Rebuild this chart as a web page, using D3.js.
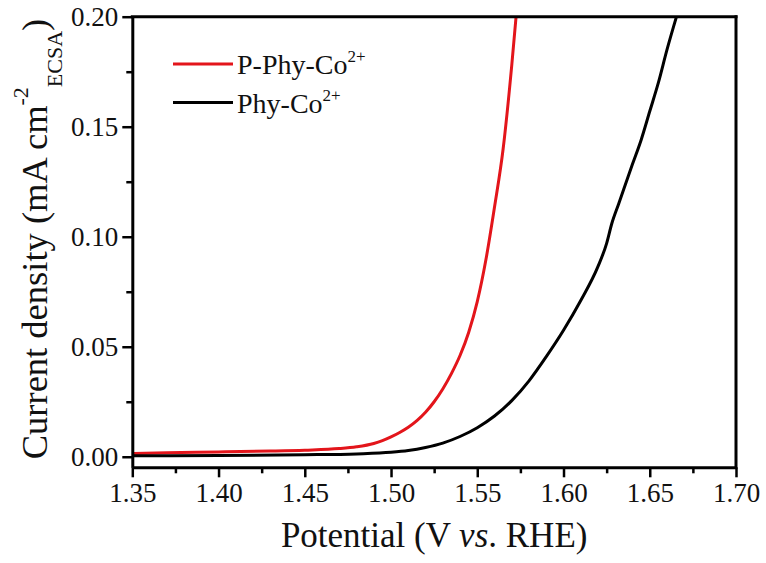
<!DOCTYPE html>
<html>
<head>
<meta charset="utf-8">
<script src="https://cdn.jsdelivr.net/npm/d3@7"></script>
<style>
  html, body { margin: 0; padding: 0; background: #fff; }
</style>
</head>
<body>
<svg id="chart" width="766" height="563"></svg>
<script>
// ---- data ----
const seriesNames = ["P-Phy-Co", "Phy-Co"];
const seriesColors = ["#e3151b", "#000000"];

const redPotential = [1.35, 1.37, 1.40, 1.43, 1.45, 1.47, 1.48, 1.49, 1.495, 1.50, 1.505, 1.51, 1.515, 1.52, 1.525, 1.53, 1.535, 1.54, 1.545, 1.55, 1.555, 1.56, 1.565, 1.57, 1.5725];
const redCurrent   = [0.0015, 0.0018, 0.0022, 0.0026, 0.0030, 0.0037, 0.0045, 0.0060, 0.0073, 0.0090, 0.0110, 0.0134, 0.0164, 0.0202, 0.0250, 0.0308, 0.0378, 0.0460, 0.0565, 0.0705, 0.0895, 0.1135, 0.1400, 0.1780, 0.2000];

const blackPotential = [1.35, 1.40, 1.45, 1.48, 1.50, 1.51, 1.52, 1.53, 1.54, 1.55, 1.56, 1.57, 1.58, 1.59, 1.60, 1.61, 1.62, 1.625, 1.628, 1.632, 1.64, 1.645, 1.65, 1.655, 1.66, 1.6655];
const blackCurrent   = [0.0004, 0.0006, 0.0009, 0.0013, 0.0020, 0.0028, 0.0042, 0.0062, 0.0092, 0.0132, 0.0185, 0.0255, 0.0345, 0.0455, 0.0575, 0.0710, 0.0865, 0.0970, 0.1060, 0.1150, 0.1330, 0.1440, 0.1570, 0.1700, 0.1850, 0.2000];

const xMajorTicks = [1.35, 1.40, 1.45, 1.50, 1.55, 1.60, 1.65, 1.70];
const xMinorTicks = [1.375, 1.425, 1.475, 1.525, 1.575, 1.625, 1.675];
const yMajorTicks = [0.00, 0.05, 0.10, 0.15, 0.20];
const yMinorTicks = [0.025, 0.075, 0.125, 0.175];

const series = [
  { name: seriesNames[0], color: seriesColors[0], points: redPotential.map((v, i) => ({ x: v, y: redCurrent[i] })) },
  { name: seriesNames[1], color: seriesColors[1], points: blackPotential.map((v, i) => ({ x: v, y: blackCurrent[i] })) }
];

// ---- layout ----
const FONT = "Liberation Serif";
const svg = d3.select("#chart");
const plotL = 132.3, plotR = 736, plotT = 16.7, plotB = 467.3;

const x = d3.scaleLinear().domain([1.35, 1.70]).range([plotL, plotR]);
const y = d3.scaleLinear().domain([-0.0048, 0.20]).range([plotB, plotT]);

// clip
svg.append("clipPath").attr("id", "clip")
  .append("rect").attr("x", plotL).attr("y", plotT).attr("width", plotR - plotL).attr("height", plotB - plotT);

// lines
const line = d3.line().x(d => x(d.x)).y(d => y(d.y)).curve(d3.curveMonotoneX);
svg.append("g").attr("clip-path", "url(#clip)")
  .selectAll("path").data(series).join("path")
  .attr("d", d => line(d.points))
  .attr("fill", "none")
  .attr("stroke", d => d.color)
  .attr("stroke-width", 3)
  .attr("stroke-linejoin", "round");

// frame (top & right)
svg.append("line").attr("x1", plotL).attr("x2", plotR).attr("y1", plotT).attr("y2", plotT)
  .attr("stroke", "#000").attr("stroke-width", 3).attr("stroke-linecap", "square");
svg.append("line").attr("x1", plotR).attr("x2", plotR).attr("y1", plotT).attr("y2", plotB)
  .attr("stroke", "#000").attr("stroke-width", 3).attr("stroke-linecap", "square");

// axes
const fmt = d3.format(".2f");
const xAxis = svg.append("g").attr("transform", `translate(0,${plotB})`)
  .call(d3.axisBottom(x).tickValues(xMajorTicks).tickFormat(fmt).tickSize(10).tickPadding(6).tickSizeOuter(0));
const xMinor = svg.append("g").attr("transform", `translate(0,${plotB})`)
  .call(d3.axisBottom(x).tickValues(xMinorTicks).tickFormat("").tickSize(6).tickSizeOuter(0));
const yAxis = svg.append("g").attr("transform", `translate(${plotL},0)`)
  .call(d3.axisLeft(y).tickValues(yMajorTicks).tickFormat(fmt).tickSize(10).tickPadding(4).tickSizeOuter(0));
const yMinor = svg.append("g").attr("transform", `translate(${plotL},0)`)
  .call(d3.axisLeft(y).tickValues(yMinorTicks).tickFormat("").tickSize(6).tickSizeOuter(0));

[xMinor, yMinor].forEach(g => g.select(".domain").remove());
[xAxis, yAxis, xMinor, yMinor].forEach(g => {
  g.attr("font-family", null).attr("font-size", null);
  g.selectAll("line").attr("stroke", "#000").attr("stroke-width", 2.5);
  g.selectAll(".domain").attr("stroke", "#000").attr("stroke-width", 3);
  g.selectAll("text").attr("fill", "#111").style("font-family", FONT).style("font-size", "27px");
});

// axis titles
svg.append("text")
  .attr("x", (plotL + plotR) / 2).attr("y", 547)
  .attr("text-anchor", "middle")
  .style("font-family", FONT).style("font-size", "35px").attr("fill", "#111")
  .call(t => {
    t.append("tspan").text("Potential (V ");
    t.append("tspan").style("font-style", "italic").text("vs");
    t.append("tspan").text(". RHE)");
  });

const yt = svg.append("text")
  .attr("transform", "translate(47,239) rotate(-90)")
  .attr("text-anchor", "middle")
  .style("font-family", FONT).style("font-size", "36.5px").attr("fill", "#111");
yt.append("tspan").text("Current density (mA cm");
yt.append("tspan").attr("dy", -19).style("font-size", "22px").text("-2");
yt.append("tspan").attr("dy", 34).style("font-size", "22px").text("ECSA");
yt.append("tspan").attr("dy", -15).text(")");

// legend
const legend = svg.append("g");
series.forEach((s, i) => {
  const ly = 64 + i * 38.5;
  legend.append("line").attr("x1", 173).attr("x2", 233).attr("y1", ly).attr("y2", ly)
    .attr("stroke", s.color).attr("stroke-width", 3);
  const t = legend.append("text").attr("x", 237).attr("y", ly + 10)
    .style("font-family", FONT).style("font-size", "28px").attr("fill", "#111");
  t.append("tspan").text(s.name);
  t.append("tspan").attr("dy", -12).style("font-size", "17px").text("2+");
});
</script>
</body>
</html>
